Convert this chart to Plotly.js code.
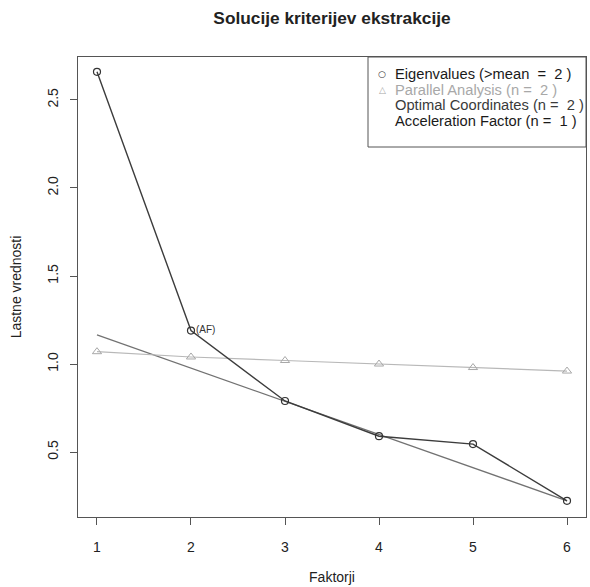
<!DOCTYPE html>
<html>
<head>
<meta charset="utf-8">
<script src="https://cdn.plot.ly/plotly-3.0.1.min.js"></script>
<style>html,body{margin:0;padding:0;background:#fff;}#chart{width:590px;height:587px;}</style>
</head>
<body>
<div id="chart"></div>
<script>
// ---- data ----
const factors = [1, 2, 3, 4, 5, 6];
const eigenvalues = [2.66, 1.19, 0.79, 0.59, 0.545, 0.223];
const parallelAnalysis = [1.07, 1.04, 1.02, 1.00, 0.98, 0.96];
const ocLineX = [1, 6];
const ocLineY = [1.165, 0.223];
const xTickVals = [1, 2, 3, 4, 5, 6];
const yTickVals = [0.5, 1.0, 1.5, 2.0, 2.5];
const legendLabels = [
  "Eigenvalues (>mean\u00a0 =\u00a0 2 )",
  "Parallel Analysis (n =\u00a0 2 )",
  "Optimal Coordinates (n =\u00a0 2 )",
  "Acceleration Factor (n =\u00a0 1 )"
];
const afLabel = "(AF)";
const afIndex = 1;

const FONT = "Liberation Sans, Arial, Helvetica, sans-serif";
const W = 590, H = 587;
const M = {l: 78, r: 4, t: 57, b: 70};
const pw = W - M.l - M.r, ph = H - M.t - M.b;
const px = x => (x - M.l) / pw;
const py = y => (H - M.b - y) / ph;
const xRange = [0.798, 6.202];
const yRange = [0.131, 2.744];

const traces = [
  {x: ocLineX, y: ocLineY, mode: "lines", line: {color: "#727272", width: 1.3}, hoverinfo: "skip", showlegend: false},
  {x: factors, y: parallelAnalysis, mode: "lines+markers", name: legendLabels[1], line: {color: "#b8b8b8", width: 1.2},
   marker: {symbol: "triangle-up-open", size: 8, color: "#a8a8a8", line: {width: 1, color: "#a8a8a8"}}, showlegend: false},
  {x: factors, y: eigenvalues, mode: "lines+markers", name: legendLabels[0], line: {color: "#3c3c3c", width: 1.4},
   marker: {symbol: "circle-open", size: 7, color: "#333333", line: {width: 1.2, color: "#333333"}}, showlegend: false}
];

const rowsY = [74, 89.5, 105, 120.5];
const rowColors = ["#1a1a1a", "#a8a8a8", "#3a3a3a", "#1a1a1a"];
const annotations = legendLabels.map((t, i) => ({
  xref: "paper", yref: "paper", x: px(393), y: py(rowsY[i]), xanchor: "left", yanchor: "middle",
  text: t, showarrow: false, font: {family: FONT, size: 14.7, color: rowColors[i]}
}));
annotations.push({xref: "paper", yref: "paper", x: px(382), y: py(rowsY[0]), xanchor: "center", yanchor: "middle",
  text: "○", showarrow: false, font: {family: "DejaVu Sans", size: 9, color: "#333"}});
annotations.push({xref: "paper", yref: "paper", x: px(382), y: py(rowsY[1]), xanchor: "center", yanchor: "middle",
  text: "△", showarrow: false, font: {family: "DejaVu Sans", size: 9, color: "#a8a8a8"}});
annotations.push({x: factors[afIndex], y: eigenvalues[afIndex], xanchor: "left", yanchor: "bottom",
  xshift: 3, yshift: -6, text: afLabel, showarrow: false, font: {family: FONT, size: 10, color: "#333"}});

const layout = {
  width: W, height: H,
  margin: M,
  paper_bgcolor: "#ffffff", plot_bgcolor: "#ffffff",
  font: {family: FONT, size: 14, color: "#222"},
  title: {text: "<b>Solucije kriterijev ekstrakcije</b>", font: {family: FONT, size: 17.3, color: "#222"},
          x: 0.5, xref: "paper", y: 1 - 18 / H, yref: "container", yanchor: "middle"},
  showlegend: false,
  xaxis: {
    range: xRange, tickvals: xTickVals, ticks: "outside", ticklen: 7, tickwidth: 1, tickcolor: "#555",
    showline: true, mirror: true, linecolor: "#555", linewidth: 1, showgrid: false, zeroline: false,
    tickfont: {family: FONT, size: 14, color: "#222"}, ticklabelstandoff: 10,
    title: {text: "Faktorji", font: {family: FONT, size: 14, color: "#222"}, standoff: 18}
  },
  yaxis: {
    range: yRange, tickvals: yTickVals, tickformat: ".1f", tickangle: -90, ticks: "outside", ticklen: 7, tickwidth: 1,
    tickcolor: "#555", showline: true, mirror: true, linecolor: "#555", linewidth: 1, showgrid: false, zeroline: false,
    tickfont: {family: FONT, size: 14, color: "#222"}, ticklabelstandoff: 6,
    title: {text: "Lastne vrednosti", font: {family: FONT, size: 14, color: "#222"}, standoff: 20}
  },
  shapes: [{type: "rect", xref: "paper", yref: "paper", x0: px(368), x1: 1, y0: py(147), y1: 1,
            line: {color: "#555", width: 1}, fillcolor: "#ffffff", layer: "above"}],
  annotations: annotations
};

Plotly.newPlot("chart", traces, layout, {displayModeBar: false, staticPlot: true});
</script>
</body>
</html>
